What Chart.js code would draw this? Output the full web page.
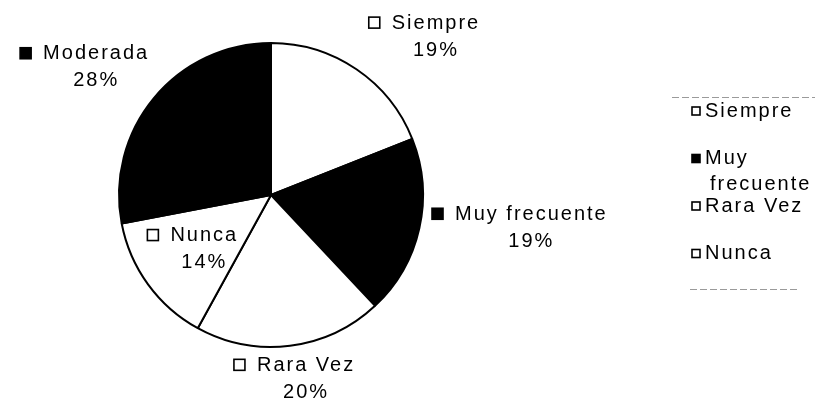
<!DOCTYPE html>
<html>
<head>
<meta charset="utf-8">
<script src="https://cdn.jsdelivr.net/npm/chart.js@4/dist/chart.umd.min.js"></script>
<style>
  html, body { margin: 0; padding: 0; background: #fff; }
  #wrap { width: 827px; height: 403px; position: relative; }
</style>
</head>
<body>
<div id="wrap"><canvas id="c" width="827" height="403"></canvas></div>
<script>
const categories = ["Siempre", "Muy frecuente", "Rara Vez", "Nunca", "Moderada"];
const percentages = [19, 19, 20, 14, 28];
const sliceColors = ["#ffffff", "#000000", "#ffffff", "#ffffff", "#000000"];

// label placement relative to each arc (radius factor, angle shift in degrees)
const labelPlacement = [
  { dist: 1.50, shift: 11.8 },
  { dist: 1.72, shift: -5.4 },
  { dist: 1.23, shift: -3.3 },
  { dist: 0.57, shift: -2.6 },
  { dist: 1.43, shift: -3.6 }
];

const FONT = '20px "Liberation Sans", Arial, sans-serif';

function drawKey(ctx, x, y, size, fill) {
  ctx.save();
  ctx.fillStyle = fill;
  ctx.fillRect(x, y, size, size);
  ctx.strokeStyle = '#000';
  ctx.lineWidth = 1.6;
  ctx.strokeRect(x, y, size, size);
  ctx.restore();
}

const labelPlugin = {
  id: 'sliceLabels',
  afterDraw(chart) {
    const ctx = chart.ctx;
    const meta = chart.getDatasetMeta(0);
    ctx.save();
    ctx.font = FONT;
    ctx.letterSpacing = '2px';
    ctx.fillStyle = '#000';
    ctx.textBaseline = 'middle';
    meta.data.forEach((arc, i) => {
      const p = arc.getProps(['x', 'y', 'startAngle', 'endAngle', 'outerRadius'], true);
      const pl = labelPlacement[i];
      const a = (p.startAngle + p.endAngle) / 2 + pl.shift * Math.PI / 180;
      const cx = p.x + Math.cos(a) * p.outerRadius * pl.dist;
      const cy = p.y + Math.sin(a) * p.outerRadius * pl.dist;
      const line1 = categories[i];
      const line2 = percentages[i] + '%';
      const w1 = ctx.measureText(line1).width - 2;
      const w2 = ctx.measureText(line2).width - 2;
      const bw = Math.max(w1, w2);
      const y1 = cy - 13.5, y2 = cy + 13.5;
      ctx.textAlign = 'left';
      ctx.fillText(line1, cx - w1 / 2, y1);
      ctx.fillText(line2, cx - w2 / 2, y2);
      drawKey(ctx, cx - bw / 2 - 12 - 11, y1 - 6, 11, sliceColors[i]);
    });

    // legend box (clipped, as in the reference)
    const boxTop = 97, boxBottom = 289;
    ctx.strokeStyle = '#9a9a9a';
    ctx.lineWidth = 1;
    ctx.setLineDash([7, 3]);
    ctx.beginPath();
    ctx.moveTo(672, boxTop + 0.5); ctx.lineTo(815, boxTop + 0.5);
    ctx.moveTo(690, boxBottom + 0.5); ctx.lineTo(798, boxBottom + 0.5);
    ctx.stroke();
    ctx.setLineDash([]);

    const maxTextW = 100;
    let y = 111;
    categories.forEach((name, i) => {
      if (y > boxBottom - 10) return;
      drawKey(ctx, 692, y - 4, 8, sliceColors[i]);
      // wrap
      const words = name.split(' ');
      const lines = [];
      let cur = '';
      words.forEach(wd => {
        const t = cur ? cur + ' ' + wd : wd;
        if (ctx.measureText(t).width > maxTextW && cur) { lines.push(cur); cur = wd; }
        else cur = t;
      });
      lines.push(cur);
      ctx.textAlign = 'left';
      lines.forEach((ln, k) => {
        ctx.fillText(ln, k === 0 ? 705 : 710, y + k * 26);
      });
      y += 47.5;
    });
    ctx.restore();
  }
};

new Chart(document.getElementById('c'), {
  type: 'pie',
  data: {
    labels: categories,
    datasets: [{
      data: percentages,
      backgroundColor: sliceColors,
      borderColor: '#000000',
      borderWidth: 2,
      radius: 152
    }]
  },
  options: {
    responsive: false,
    animation: false,
    layout: { padding: { left: 10, right: 295, top: 30, bottom: 43 } },
    plugins: {
      legend: { display: false },
      tooltip: { enabled: false }
    }
  },
  plugins: [labelPlugin]
});
</script>
</body>
</html>
